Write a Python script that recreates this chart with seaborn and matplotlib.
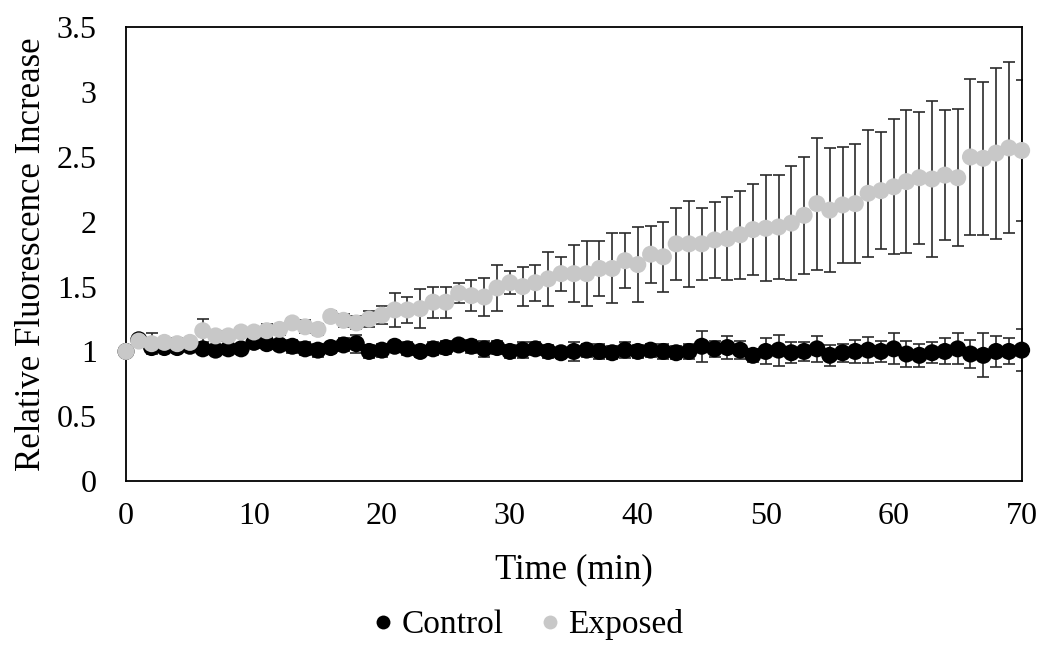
import numpy as np
import pandas as pd
import matplotlib
matplotlib.use('Agg')
import matplotlib.pyplot as plt
from matplotlib.lines import Line2D
import seaborn as sns

# time points (min)
minutes = list(range(0, 71))

# control series - mean and error
control_mean = [1.00, 1.09, 1.03, 1.03, 1.03, 1.04, 1.02, 1.01, 1.02, 1.02,
                1.07, 1.06, 1.05, 1.04, 1.02, 1.01, 1.03, 1.05, 1.06, 1.00,
                1.01, 1.04, 1.02, 1.00, 1.02, 1.03, 1.05, 1.04, 1.02, 1.03,
                1.00, 1.01, 1.02, 1.00, 0.99, 1.00, 1.01, 1.00, 0.99, 1.01,
                1.00, 1.01, 1.00, 0.99, 1.00, 1.04, 1.02, 1.03, 1.01, 0.97,
                1.00, 1.01, 0.99, 1.00, 1.02, 0.97, 0.99, 1.00, 1.01, 1.00,
                1.02, 0.98, 0.97, 0.99, 1.00, 1.02, 0.98, 0.97, 1.00, 1.00,
                1.01]
control_err = [0.02, 0.03, 0.03, 0.03, 0.04, 0.03, 0.03, 0.03, 0.04, 0.04,
               0.04, 0.04, 0.04, 0.05, 0.05, 0.05, 0.04, 0.05, 0.07, 0.05,
               0.05, 0.04, 0.05, 0.04, 0.05, 0.05, 0.04, 0.05, 0.06, 0.05,
               0.05, 0.06, 0.05, 0.05, 0.04, 0.07, 0.05, 0.06, 0.05, 0.06,
               0.05, 0.05, 0.06, 0.05, 0.06, 0.12, 0.06, 0.09, 0.07, 0.05,
               0.10, 0.12, 0.08, 0.07, 0.10, 0.08, 0.07, 0.09, 0.10, 0.08,
               0.12, 0.10, 0.09, 0.08, 0.10, 0.12, 0.11, 0.17, 0.12, 0.10,
               0.16]

# exposed series - mean and error
exposed_mean = [1.00, 1.08, 1.06, 1.07, 1.06, 1.07, 1.16, 1.12, 1.12, 1.15,
                1.15, 1.16, 1.17, 1.22, 1.19, 1.17, 1.27, 1.24, 1.22, 1.25,
                1.28, 1.32, 1.32, 1.33, 1.38, 1.38, 1.45, 1.43, 1.42, 1.49,
                1.53, 1.50, 1.53, 1.56, 1.60, 1.60, 1.60, 1.64, 1.64, 1.70,
                1.67, 1.75, 1.73, 1.83, 1.83, 1.83, 1.86, 1.87, 1.90, 1.94,
                1.95, 1.96, 1.99, 2.05, 2.14, 2.09, 2.13, 2.14, 2.22, 2.24,
                2.27, 2.31, 2.34, 2.33, 2.36, 2.34, 2.50, 2.49, 2.53, 2.57,
                2.55]
exposed_err = [0.02, 0.03, 0.08, 0.03, 0.04, 0.03, 0.09, 0.04, 0.04, 0.04,
               0.04, 0.05, 0.04, 0.04, 0.05, 0.04, 0.04, 0.05, 0.05, 0.06,
               0.07, 0.13, 0.10, 0.15, 0.12, 0.12, 0.08, 0.12, 0.15, 0.18,
               0.09, 0.15, 0.14, 0.21, 0.13, 0.22, 0.25, 0.21, 0.27, 0.21,
               0.29, 0.22, 0.27, 0.28, 0.33, 0.28, 0.29, 0.32, 0.34, 0.35,
               0.41, 0.40, 0.44, 0.45, 0.51, 0.48, 0.45, 0.46, 0.49, 0.45,
               0.52, 0.55, 0.51, 0.60, 0.50, 0.53, 0.60, 0.59, 0.66, 0.66,
               0.54]

df = pd.DataFrame({
    'Time': minutes * 2,
    'Value': control_mean + exposed_mean,
    'Err': control_err + exposed_err,
    'Group': ['Control'] * len(minutes) + ['Exposed'] * len(minutes),
})

sns.set_style('white')
plt.rcParams['font.family'] = ['Liberation Serif', 'DejaVu Serif']
plt.rcParams['text.color'] = 'black'
plt.rcParams['axes.labelcolor'] = 'black'

colors = {'Control': '#000000', 'Exposed': '#c8c8c8'}

fig, ax = plt.subplots(figsize=(10.5, 6.51), dpi=100)
fig.subplots_adjust(left=0.12, right=0.973, top=0.958, bottom=0.261)

# error bars then markers, control first so exposed sits on top
for grp in ['Control', 'Exposed']:
    sub = df[df.Group == grp]
    ax.errorbar(sub.Time, sub.Value, yerr=sub.Err, fmt='none',
                ecolor='#2b2b2b', elinewidth=1.2, capsize=4.5, capthick=1.2,
                zorder=2)
    sns.scatterplot(data=sub, x='Time', y='Value', color=colors[grp],
                    s=150, edgecolor='none', ax=ax, legend=False, zorder=3,
                    clip_on=False)

ax.set_xlim(0, 70)
ax.set_ylim(0, 3.5)
ax.set_xticks(range(0, 71, 10))
ax.set_yticks(np.arange(0, 3.51, 0.5))
ax.set_yticklabels(['0', '0.5', '1', '1.5', '2', '2.5', '3', '3.5'])
ax.tick_params(axis='both', length=0, labelsize=23, colors='black')
ax.tick_params(axis='y', pad=21)
ax.tick_params(axis='x', pad=15)

for sp in ax.spines.values():
    sp.set_visible(True)
    sp.set_color('black')
    sp.set_linewidth(1.3)

ax.set_xlabel('Time (min)', fontsize=25, labelpad=16, color='black')
ax.set_ylabel('Relative Fluorescence Increase', fontsize=25, labelpad=6,
              color='black')

handles = [Line2D([], [], marker='o', linestyle='none', markersize=10,
                  markerfacecolor=colors[g], markeredgecolor='none', label=g)
           for g in ['Control', 'Exposed']]
fig.legend(handles=handles, loc='center', bbox_to_anchor=(0.5, 0.04),
           ncol=2, frameon=False, fontsize=24, handletextpad=0.05,
           columnspacing=0.9, handlelength=1.0, labelcolor='black')

fig.savefig('out.png', dpi=100)
